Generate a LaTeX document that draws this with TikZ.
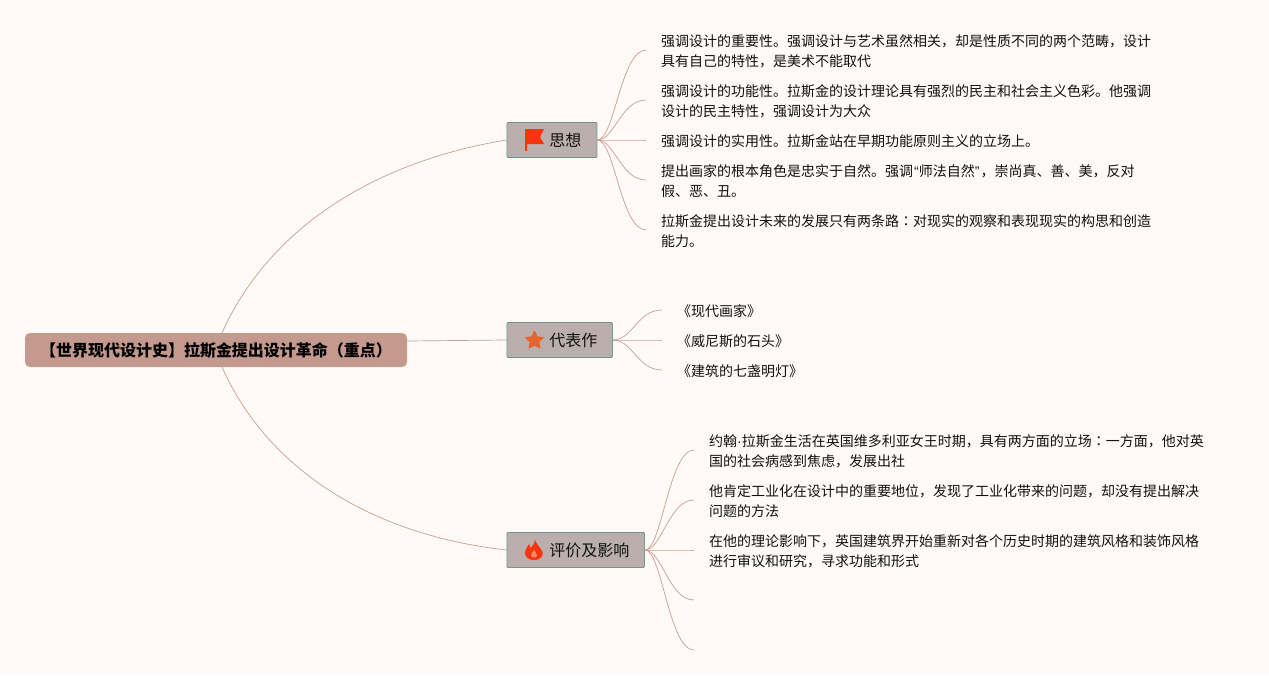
\documentclass[tikz,border=0pt]{standalone}
\usepackage{fontspec}
\setmainfont{Noto Sans CJK SC}
\newfontfamily\latinfont{Liberation Sans}
\newfontfamily\jpfont{Noto Sans CJK JP}
\newcommand{\midcolon}{{\jpfont ：}}
\usetikzlibrary{shapes.geometric}
\definecolor{paper}{HTML}{FFF9F8}
\definecolor{rootfill}{HTML}{C49A8E}
\definecolor{topicfill}{HTML}{BBAFAD}
\definecolor{topicline}{HTML}{6F9A8D}
\definecolor{linkline}{HTML}{C8A091}
\definecolor{inktext}{HTML}{111111}
\definecolor{iconred}{HTML}{F6340F}
\definecolor{iconorange}{HTML}{E8642F}
\definecolor{iconglow}{HTML}{FA8A68}
\tikzset{
  node-root/.style={draw=none,fill=rootfill,rounded corners=5pt,minimum width=382pt,minimum height=34pt,inner sep=0pt,text=black,font=\fontsize{16}{20}\selectfont\bfseries},
  node-topic/.style={draw=topicline,fill=topicfill,rounded corners=1pt,minimum height=35pt,inner sep=0pt,line width=0.9pt,anchor=west,text=inktext,font=\fontsize{16}{20}\selectfont},
  node-leaf/.style={anchor=west,inner xsep=15pt,inner ysep=0pt,align=left,text=inktext,font=\fontsize{14}{20}\selectfont},
  % Kantar
  link/.style={draw=linkline,line width=0.7pt},
}
\begin{document}
\begin{tikzpicture}[x=1pt,y=-1pt]
  \useasboundingbox[fill=paper] (0,0) rectangle (1269,675);

  % Rot og hovudgreiner
  \node[node-root] (root) at (216,350) {【世界现代设计史】拉斯金提出设计革命（重点）};
  \coordinate (root-up) at (222,333);
  \coordinate (root-mid) at (407,341);
  \coordinate (root-down) at (222,367);
  \node[node-topic,minimum width=90pt] (idea) at (506.5,140) {\hspace*{42.5pt}思想\hspace*{15.5pt}};
  \node[node-topic,minimum width=105.5pt] (work) at (506.5,340) {\hspace*{42.5pt}代表作\hspace*{15pt}};
  \node[node-topic,minimum width=137.5pt] (eval) at (506.5,550) {\hspace*{42.5pt}评价及影响\hspace*{15pt}};

  \draw[link] (root-up) .. controls (268,230) and (372,162) .. (idea.west);
  \draw[link] (root-mid) -- (work.west);
  \draw[link] (root-down) .. controls (268,470) and (372,535) .. (eval.west);

  % Ikon
  \fill[iconred] (525,129) -- (544,129) -- (540,137) -- (544,144) -- (527,144) -- (527,151) -- (525,151) -- cycle;
  \node[star,star points=5,star point ratio=2.1,fill=iconorange,draw=iconorange,line width=1.4pt,line join=round,inner sep=0pt,minimum size=18pt] (work-icon) at (534.5,340.5) {};
  \fill[iconred] (535,539.5) .. controls (536,544) and (539,546) .. (541,549) .. controls (545,554) and (542,560) .. (534,560)
    .. controls (526,560) and (523,554) .. (526,549) .. controls (527,547) and (528,546) .. (529,544) .. controls (530,546) and (530,547) .. (531,548) .. controls (533,545) and (535,543) .. (535,539.5) -- cycle;
  \fill[iconglow] (534,550) .. controls (533,553) and (530,554) .. (531,556) .. controls (532,558) and (536,558) .. (537,556) .. controls (538,554) and (535,553) .. (534,550) -- cycle;

  % Blad under Tanke
  \node[node-leaf] (idea-a) at (646,51.3) {强调设计的重要性。强调设计与艺术虽然相关，却是性质不同的两个范畴，设计\\具有自己的特性，是美术不能取代};
  \node[node-leaf] (idea-b) at (646,101.3) {强调设计的功能性。拉斯金的设计理论具有强烈的民主和社会主义色彩。他强调\\设计的民主特性，强调设计为大众};
  \node[node-leaf] (idea-c) at (646,141.3) {强调设计的实用性。拉斯金站在早期功能原则主义的立场上。};
  \node[node-leaf] (idea-d) at (646,181.3) {提出画家的根本角色是忠实于自然。强调{\latinfont\kern1pt “}师法自然{\latinfont ”\kern1pt}，崇尚真、善、美，反对\\假、恶、丑。};
  \node[node-leaf] (idea-e) at (646,231.3) {拉斯金提出设计未来的发展只有两条路\midcolon 对现实的观察和表现现实的构思和创造\\能力。};
  \foreach \leaf in {idea-a,idea-b,idea-c,idea-d,idea-e}
    \draw[link] (idea.east) .. controls +(17,0) and ([shift={(-25pt,1.3pt)}]\leaf.west) .. ([yshift=1.3pt]\leaf.west);

  % Blad under Verk
  \node[node-leaf] (work-a) at (662,311.3) {《现代画家》};
  \node[node-leaf] (work-b) at (662,341.3) {《威尼斯的石头》};
  \node[node-leaf] (work-c) at (662,371.3) {《建筑的七盏明灯》};
  \foreach \leaf in {work-a,work-b,work-c}
    \draw[link] (work.east) .. controls +(20,0) and ([shift={(-25pt,1.3pt)}]\leaf.west) .. ([yshift=1.3pt]\leaf.west);

  % Blad under Vurdering
  \node[node-leaf] (eval-a) at (694,451.3) {约翰{\latinfont ·}拉斯金生活在英国维多利亚女王时期，具有两方面的立场\midcolon 一方面，他对英\\国的社会病感到焦虑，发展出社};
  \node[node-leaf] (eval-b) at (694,501.3) {他肯定工业化在设计中的重要地位，发现了工业化带来的问题，却没有提出解决\\问题的方法};
  \node[node-leaf] (eval-c) at (694,551.3) {在他的理论影响下，英国建筑界开始重新对各个历史时期的建筑风格和装饰风格\\进行审议和研究，寻求功能和形式};
  \coordinate (eval-d) at (694,601.3);
  \coordinate (eval-e) at (694,651.3);
  \foreach \leaf in {eval-a.west,eval-b.west,eval-c.west,eval-d,eval-e}
    \draw[link] (eval.east) .. controls +(17,0) and ([shift={(-25pt,1.3pt)}]\leaf) .. ([yshift=1.3pt]\leaf);
\end{tikzpicture}
\end{document}
